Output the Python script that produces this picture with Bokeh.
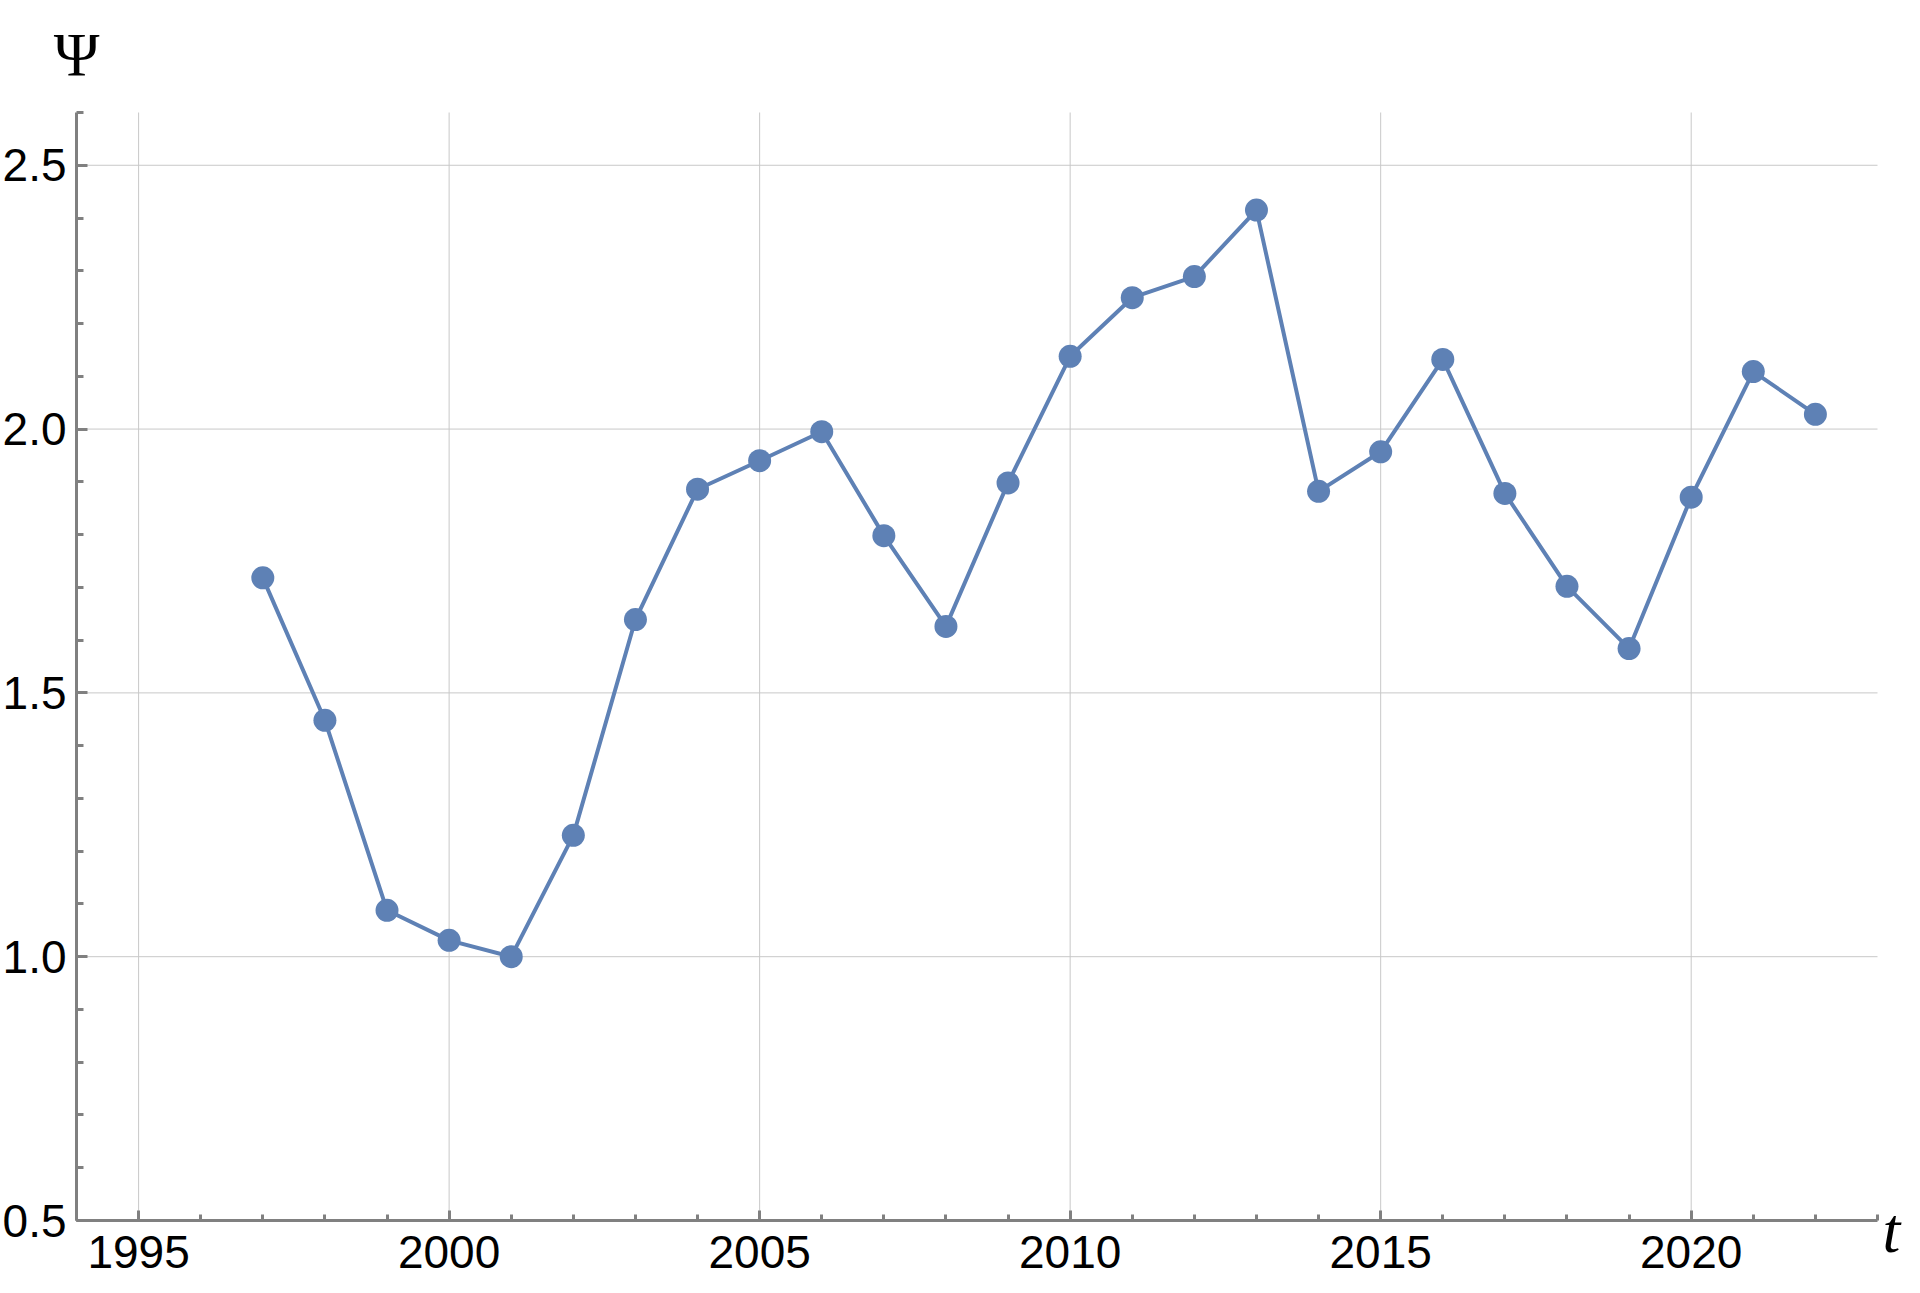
from bokeh.plotting import figure
from bokeh.models import Range1d, FixedTicker, Label, ColumnDataSource
from bokeh.embed import file_html
from bokeh.resources import INLINE

# ---- data ----
years = [1997, 1998, 1999, 2000, 2001, 2002, 2003, 2004, 2005, 2006, 2007, 2008, 2009,
         2010, 2011, 2012, 2013, 2014, 2015, 2016, 2017, 2018, 2019, 2020, 2021, 2022]
psi = [1.718, 1.448, 1.088, 1.031, 1.000, 1.230, 1.639, 1.886, 1.940, 1.995, 1.798, 1.626, 1.898,
       2.138, 2.249, 2.289, 2.415, 1.882, 1.957, 2.132, 1.878, 1.702, 1.584, 1.871, 2.109, 2.028]
x_major = [1995, 2000, 2005, 2010, 2015, 2020]
x_minor = list(range(1994, 2024))
y_major = [0.5, 1.0, 1.5, 2.0, 2.5]
y_minor = [round(0.5 + 0.1 * i, 1) for i in range(22)]
y_labels = {0.5: "0.5", 1.0: "1.0", 1.5: "1.5", 2.0: "2.0", 2.5: "2.5"}
x_labels = {v: str(v) for v in x_major}

X0, X1 = 1994, 2023     # axis extent
Y0, Y1 = 0.5, 2.6

BLUE = "#5E81B5"
AXIS = "#808080"
GRID = "#c8c8c8"

W, H = 1904, 1277
# pixel layout of the axes box inside the canvas
LEFT, RIGHT, TOP, BOTTOM = 76, 1877, 112, 1220
kx = (RIGHT - LEFT) / (X1 - X0)
ky = (BOTTOM - TOP) / (Y1 - Y0)
xr = Range1d(X0 - LEFT / kx, X1 + (W - RIGHT) / kx)
yr = Range1d(Y0 - (H - BOTTOM) / ky, Y1 + TOP / ky)

p = figure(width=W, height=H, output_backend="svg", toolbar_location=None,
           x_range=xr, y_range=yr, title=None,
           min_border_left=0, min_border_right=0, min_border_top=0, min_border_bottom=0)
p.outline_line_color = None
p.background_fill_color = "white"
p.border_fill_color = "white"
p.xgrid.visible = False
p.ygrid.visible = False

# grid lines (only inside the axes box)
p.segment(x0=x_major, y0=[Y0] * len(x_major), x1=x_major, y1=[Y1] * len(x_major),
          line_color=GRID, line_width=1, level="underlay")
gy = [v for v in y_major if v > Y0]
p.segment(x0=[X0] * len(gy), y0=gy, x1=[X1] * len(gy), y1=gy,
          line_color=GRID, line_width=1, level="underlay")

src = ColumnDataSource(dict(x=years, y=psi))
p.line("x", "y", source=src, line_color=BLUE, line_width=4)
p.scatter("x", "y", source=src, size=23, fill_color=BLUE, line_color=BLUE, line_width=0)

xa = p.xaxis[0]
ya = p.yaxis[0]
xa.fixed_location = Y0
ya.fixed_location = X0
xa.bounds = (X0, X1)
ya.bounds = (Y0, Y1)
for ax in (xa, ya):
    ax.axis_line_color = AXIS
    ax.axis_line_width = 3
    ax.major_tick_line_color = AXIS
    ax.major_tick_line_width = 3
    ax.minor_tick_line_color = AXIS
    ax.minor_tick_line_width = 3
    ax.major_tick_out = 0
    ax.minor_tick_out = 0
    ax.major_label_text_font = "Liberation Sans"
    ax.major_label_text_font_size = "46px"
    ax.major_label_text_color = "black"

xa.ticker = FixedTicker(ticks=x_major, minor_ticks=x_minor)
ya.ticker = FixedTicker(ticks=y_major, minor_ticks=y_minor)
xa.major_label_overrides = x_labels
ya.major_label_overrides = y_labels
xa.major_tick_in = 10
xa.minor_tick_in = 6
ya.major_tick_in = 11
ya.minor_tick_in = 7
xa.major_label_standoff = 15
ya.major_label_standoff = 10

p.add_layout(Label(x=X0, y=Y1, x_offset=0, y_offset=59, text="Ψ",
                   text_font="Liberation Serif", text_font_size="62px",
                   text_align="center", text_baseline="alphabetic", text_color="black"))
p.add_layout(Label(x=X1, y=Y0, x_offset=5, y_offset=-10, text="t",
                   text_font="Liberation Serif", text_font_style="italic", text_font_size="64px",
                   text_align="left", text_baseline="alphabetic", text_color="black"))

open("out.html", "w").write(file_html(p, INLINE))
